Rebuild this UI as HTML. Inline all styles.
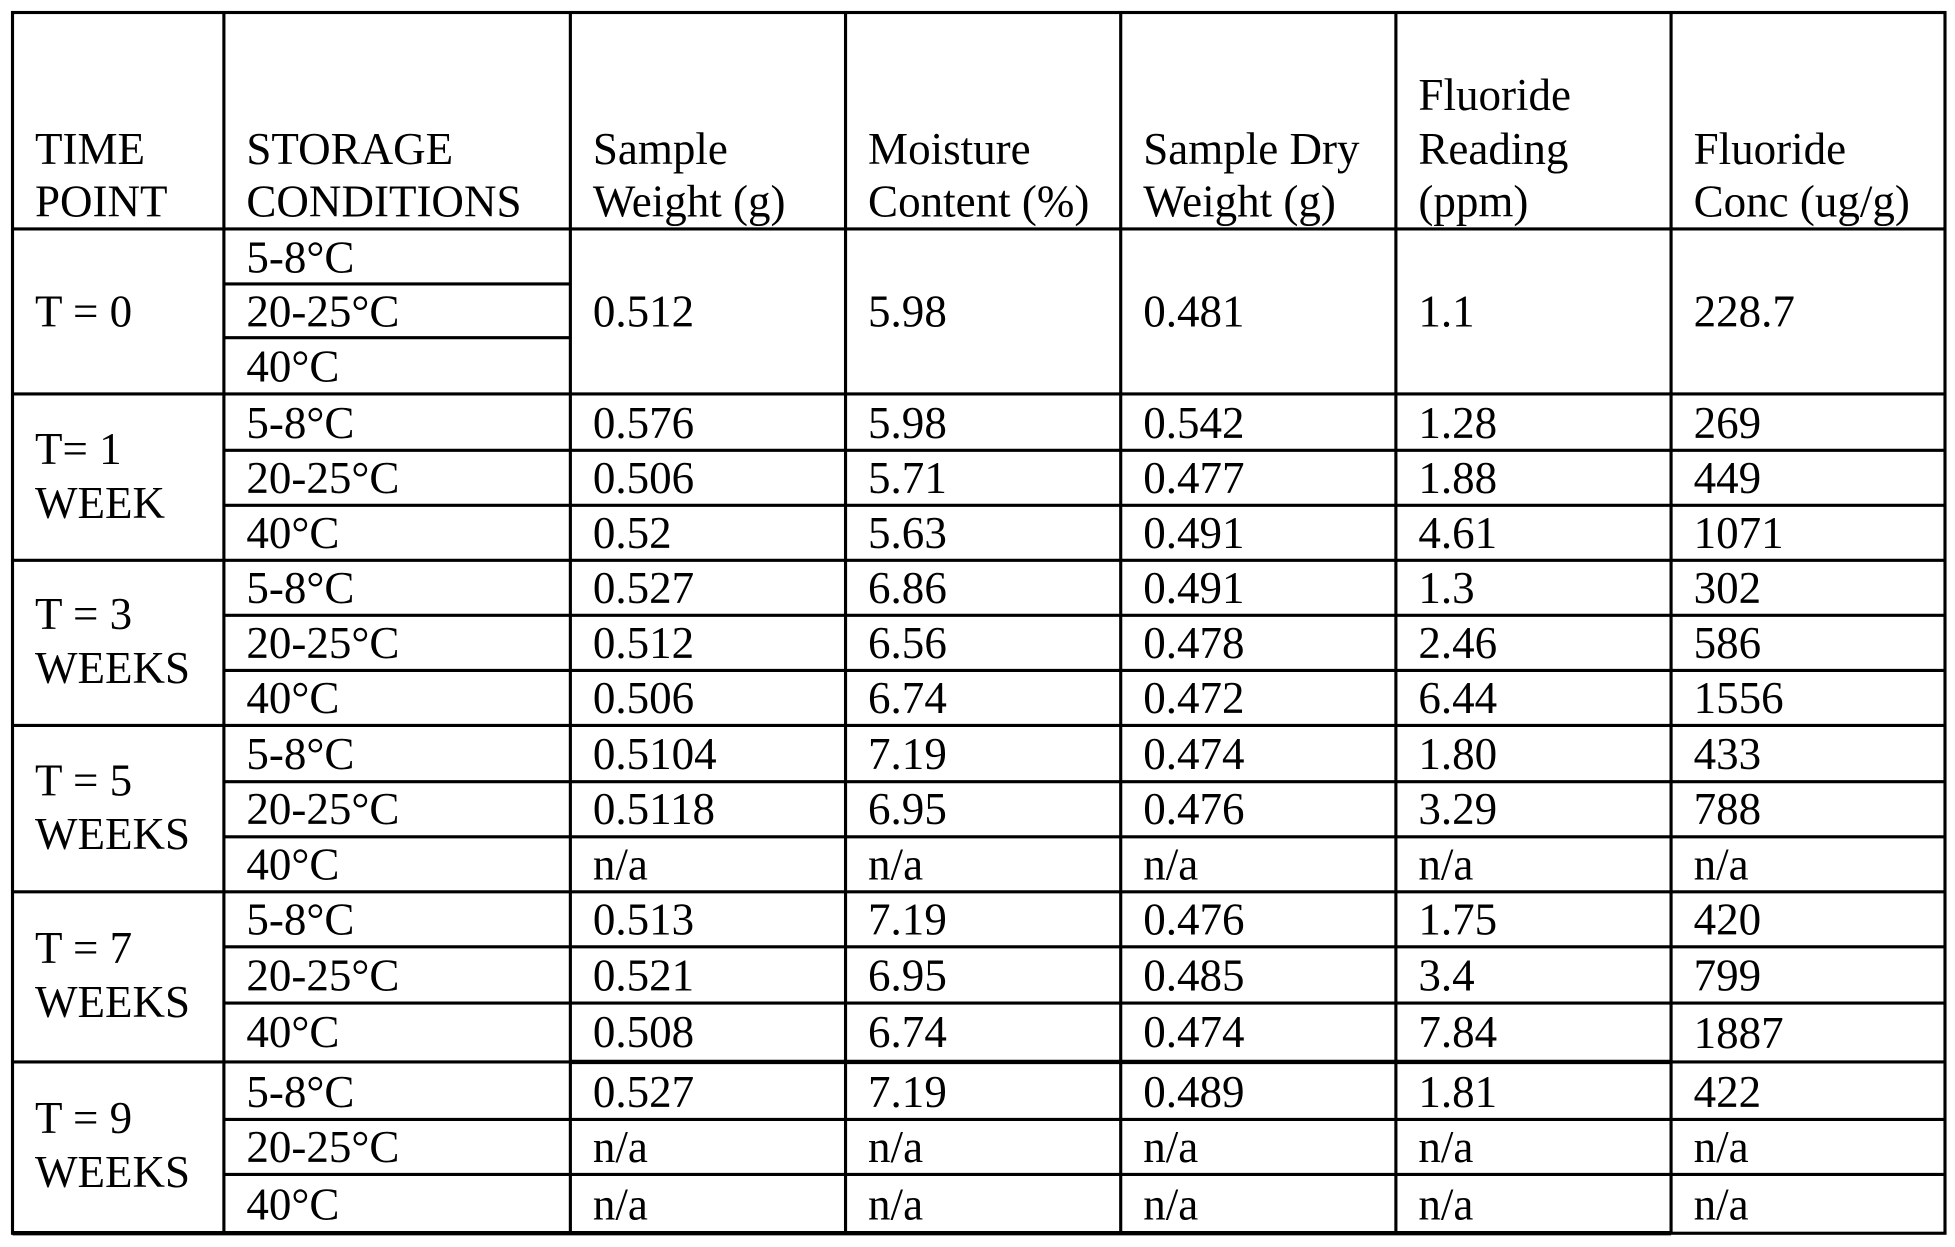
<!DOCTYPE html>
<html><head><meta charset="utf-8"><style>
html,body{margin:0;padding:0;background:#fff;}
svg{display:block;}
text{font-family:"Liberation Serif","Times New Roman",serif;font-size:36px;fill:#000;}
</style></head><body>
<svg width="1955" height="1247" viewBox="0 0 1563 997" preserveAspectRatio="none">
<g stroke="#000" stroke-width="2.5" fill="none">
<rect x="10" y="10" width="1545" height="976"/>
<line x1="179" y1="10" x2="179" y2="986"/>
<line x1="456" y1="10" x2="456" y2="986"/>
<line x1="676" y1="10" x2="676" y2="986"/>
<line x1="896" y1="10" x2="896" y2="986"/>
<line x1="1116" y1="10" x2="1116" y2="986"/>
<line x1="1336" y1="10" x2="1336" y2="986"/>
<line x1="10" y1="183" x2="1555" y2="183"/>
<line x1="179" y1="227" x2="456" y2="227"/>
<line x1="179" y1="270" x2="456" y2="270"/>
<line x1="10" y1="315" x2="1555" y2="315"/>
<line x1="179" y1="360" x2="1555" y2="360"/>
<line x1="179" y1="404" x2="1555" y2="404"/>
<line x1="10" y1="448" x2="1555" y2="448"/>
<line x1="179" y1="492" x2="1555" y2="492"/>
<line x1="179" y1="536" x2="1555" y2="536"/>
<line x1="10" y1="580" x2="1555" y2="580"/>
<line x1="179" y1="625" x2="1555" y2="625"/>
<line x1="179" y1="669" x2="1555" y2="669"/>
<line x1="10" y1="713" x2="1555" y2="713"/>
<line x1="179" y1="757" x2="1555" y2="757"/>
<line x1="179" y1="802" x2="1555" y2="802"/>
<line x1="10" y1="849" x2="1555" y2="849"/>
<line x1="456" y1="849" x2="1336" y2="849" stroke-width="3.5"/>
<line x1="179" y1="895" x2="1555" y2="895"/>
<line x1="179" y1="939" x2="1555" y2="939"/>
<line x1="10" y1="986" x2="1336" y2="986" stroke-width="3.5"/>
</g>
<text x="28" y="131">TIME</text><text x="28" y="173">POINT</text>
<text x="197" y="131">STORAGE</text><text x="197" y="173">CONDITIONS</text>
<text x="474" y="131">Sample</text><text x="474" y="173">Weight (g)</text>
<text x="694" y="131">Moisture</text><text x="694" y="173">Content (%)</text>
<text x="914" y="131">Sample Dry</text><text x="914" y="173">Weight (g)</text>
<text x="1134" y="88">Fluoride</text><text x="1134" y="131">Reading</text><text x="1134" y="173">(ppm)</text>
<text x="1354" y="131">Fluoride</text><text x="1354" y="173">Conc (ug/g)</text>

<text x="28" y="261">T = 0</text>
<text x="197" y="218">5-8°C</text><text x="197" y="261">20-25°C</text><text x="197" y="305">40°C</text>
<text x="474" y="261">0.512</text><text x="694" y="261">5.98</text><text x="914" y="261">0.481</text><text x="1134" y="261">1.1</text><text x="1354" y="261">228.7</text>

<text x="28" y="371">T= 1</text><text x="28" y="414">WEEK</text>
<text x="197" y="350">5-8°C</text><text x="474" y="350">0.576</text><text x="694" y="350">5.98</text><text x="914" y="350">0.542</text><text x="1134" y="350">1.28</text><text x="1354" y="350">269</text>
<text x="197" y="394">20-25°C</text><text x="474" y="394">0.506</text><text x="694" y="394">5.71</text><text x="914" y="394">0.477</text><text x="1134" y="394">1.88</text><text x="1354" y="394">449</text>
<text x="197" y="438">40°C</text><text x="474" y="438">0.52</text><text x="694" y="438">5.63</text><text x="914" y="438">0.491</text><text x="1134" y="438">4.61</text><text x="1354" y="438">1071</text>

<text x="28" y="503">T = 3</text><text x="28" y="546">WEEKS</text>
<text x="197" y="482">5-8°C</text><text x="474" y="482">0.527</text><text x="694" y="482">6.86</text><text x="914" y="482">0.491</text><text x="1134" y="482">1.3</text><text x="1354" y="482">302</text>
<text x="197" y="526">20-25°C</text><text x="474" y="526">0.512</text><text x="694" y="526">6.56</text><text x="914" y="526">0.478</text><text x="1134" y="526">2.46</text><text x="1354" y="526">586</text>
<text x="197" y="570">40°C</text><text x="474" y="570">0.506</text><text x="694" y="570">6.74</text><text x="914" y="570">0.472</text><text x="1134" y="570">6.44</text><text x="1354" y="570">1556</text>

<text x="28" y="636">T = 5</text><text x="28" y="679">WEEKS</text>
<text x="197" y="615">5-8°C</text><text x="474" y="615">0.5104</text><text x="694" y="615">7.19</text><text x="914" y="615">0.474</text><text x="1134" y="615">1.80</text><text x="1354" y="615">433</text>
<text x="197" y="659">20-25°C</text><text x="474" y="659">0.5118</text><text x="694" y="659">6.95</text><text x="914" y="659">0.476</text><text x="1134" y="659">3.29</text><text x="1354" y="659">788</text>
<text x="197" y="703">40°C</text><text x="474" y="703">n/a</text><text x="694" y="703">n/a</text><text x="914" y="703">n/a</text><text x="1134" y="703">n/a</text><text x="1354" y="703">n/a</text>

<text x="28" y="770">T = 7</text><text x="28" y="813">WEEKS</text>
<text x="197" y="747">5-8°C</text><text x="474" y="747">0.513</text><text x="694" y="747">7.19</text><text x="914" y="747">0.476</text><text x="1134" y="747">1.75</text><text x="1354" y="747">420</text>
<text x="197" y="792">20-25°C</text><text x="474" y="792">0.521</text><text x="694" y="792">6.95</text><text x="914" y="792">0.485</text><text x="1134" y="792">3.4</text><text x="1354" y="792">799</text>
<text x="197" y="837">40°C</text><text x="474" y="837">0.508</text><text x="694" y="837">6.74</text><text x="914" y="837">0.474</text><text x="1134" y="837">7.84</text><text x="1354" y="838">1887</text>

<text x="28" y="906">T = 9</text><text x="28" y="949">WEEKS</text>
<text x="197" y="885">5-8°C</text><text x="474" y="885">0.527</text><text x="694" y="885">7.19</text><text x="914" y="885">0.489</text><text x="1134" y="885">1.81</text><text x="1354" y="885">422</text>
<text x="197" y="929">20-25°C</text><text x="474" y="929">n/a</text><text x="694" y="929">n/a</text><text x="914" y="929">n/a</text><text x="1134" y="929">n/a</text><text x="1354" y="929">n/a</text>
<text x="197" y="975">40°C</text><text x="474" y="975">n/a</text><text x="694" y="975">n/a</text><text x="914" y="975">n/a</text><text x="1134" y="975">n/a</text><text x="1354" y="975">n/a</text>
</svg>
</body></html>
